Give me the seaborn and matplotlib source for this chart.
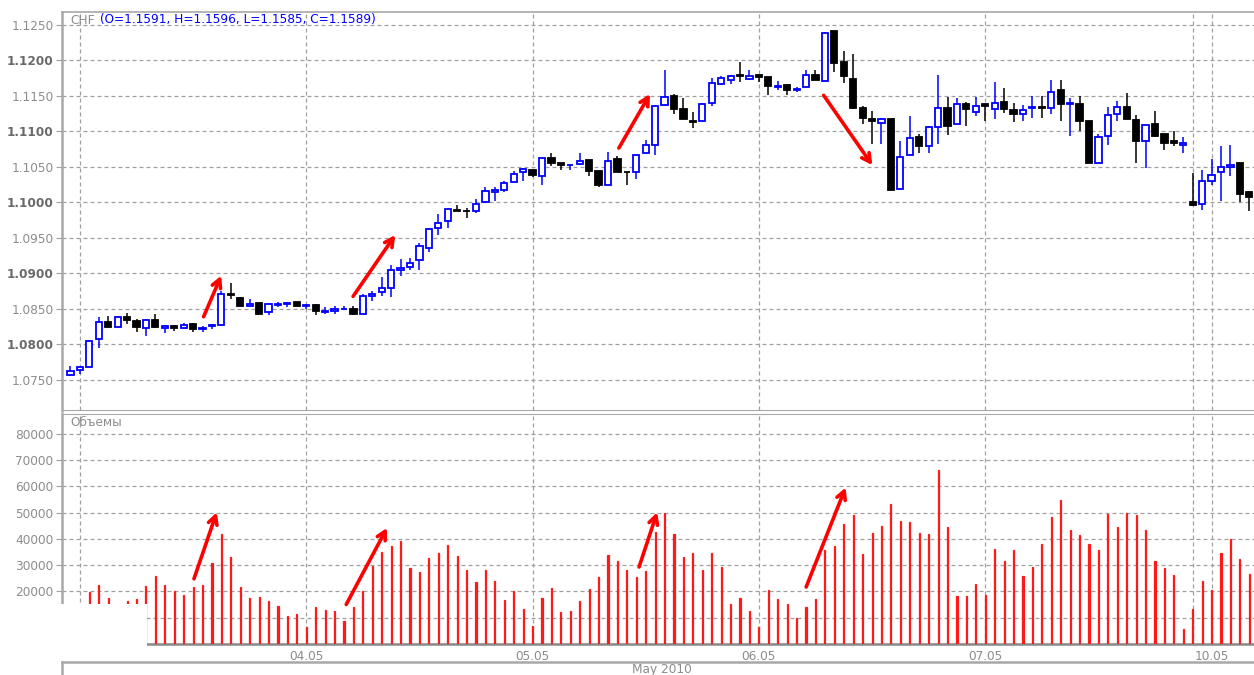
import numpy as np
import pandas as pd
import matplotlib
matplotlib.use("Agg")
import matplotlib.pyplot as plt
import seaborn as sns
from matplotlib.patches import Rectangle

# hourly CHF bars, 02.05 23:00 .. 07.05 21:00 and 09.05 22:00 .. 10.05 04:00
opens = [1.0757, 1.0763, 1.0768, 1.0807, 1.0831, 1.0824, 1.0838, 1.0832, 1.0822, 1.0834,
         1.0823, 1.0826, 1.0822, 1.0828, 1.0821, 1.0826, 1.0827, 1.0871, 1.0865, 1.0853,
         1.0858, 1.0845, 1.0855, 1.0857, 1.0859, 1.0853, 1.0855, 1.0845, 1.0846, 1.0849,
         1.0850, 1.0842, 1.0868, 1.0873, 1.0879, 1.0905, 1.0908, 1.0918, 1.0935, 1.0964,
         1.0974, 1.0989, 1.0988, 1.0987, 1.1001, 1.1015, 1.1017, 1.1029, 1.1042, 1.1045,
         1.1037, 1.1062, 1.1055, 1.1052, 1.1054, 1.1059, 1.1044, 1.1025, 1.1061, 1.1043,
         1.1043, 1.1069, 1.1081, 1.1137, 1.1150, 1.1131, 1.1114, 1.1114, 1.1140, 1.1167,
         1.1172, 1.1180, 1.1174, 1.1179, 1.1176, 1.1162, 1.1165, 1.1158, 1.1162, 1.1180,
         1.1171, 1.1241, 1.1198, 1.1174, 1.1133, 1.1117, 1.1112, 1.1118, 1.1018, 1.1067,
         1.1092, 1.1080, 1.1106, 1.1133, 1.1110, 1.1138, 1.1127, 1.1138, 1.1132, 1.1142,
         1.1130, 1.1125, 1.1133, 1.1134, 1.1133, 1.1158, 1.1139, 1.1138, 1.1114, 1.1055,
         1.1093, 1.1124, 1.1135, 1.1116, 1.1086, 1.1111, 1.1096, 1.1086, 1.1081, 1.1000,
         1.0997, 1.1030, 1.1042, 1.1050, 1.1055, 1.1014]
highs = [1.0769, 1.0769, 1.0806, 1.0838, 1.0839, 1.0840, 1.0844, 1.0835, 1.0835, 1.0842,
         1.0827, 1.0827, 1.0829, 1.0830, 1.0826, 1.0828, 1.0875, 1.0886, 1.0866, 1.0864,
         1.0858, 1.0858, 1.0860, 1.0860, 1.0860, 1.0857, 1.0857, 1.0852, 1.0853, 1.0853,
         1.0853, 1.0871, 1.0875, 1.0894, 1.0911, 1.0920, 1.0921, 1.0942, 1.0963, 1.0984,
         1.0991, 1.0996, 1.0992, 1.1005, 1.1021, 1.1021, 1.1030, 1.1044, 1.1048, 1.1045,
         1.1063, 1.1069, 1.1055, 1.1053, 1.1070, 1.1060, 1.1044, 1.1071, 1.1065, 1.1043,
         1.1067, 1.1088, 1.1137, 1.1186, 1.1153, 1.1147, 1.1127, 1.1140, 1.1175, 1.1178,
         1.1180, 1.1198, 1.1186, 1.1179, 1.1176, 1.1171, 1.1165, 1.1163, 1.1186, 1.1187,
         1.1240, 1.1242, 1.1214, 1.1209, 1.1136, 1.1128, 1.1119, 1.1118, 1.1087, 1.1121,
         1.1096, 1.1108, 1.1179, 1.1149, 1.1147, 1.1141, 1.1148, 1.1139, 1.1170, 1.1161,
         1.1140, 1.1137, 1.1150, 1.1150, 1.1172, 1.1173, 1.1147, 1.1150, 1.1114, 1.1096,
         1.1134, 1.1143, 1.1154, 1.1123, 1.1109, 1.1128, 1.1096, 1.1101, 1.1092, 1.1041,
         1.1046, 1.1061, 1.1080, 1.1081, 1.1055, 1.1016]
lows = [1.0755, 1.0758, 1.0767, 1.0795, 1.0824, 1.0824, 1.0828, 1.0817, 1.0812, 1.0822,
        1.0815, 1.0819, 1.0821, 1.0817, 1.0817, 1.0821, 1.0825, 1.0863, 1.0854, 1.0852,
        1.0842, 1.0841, 1.0852, 1.0852, 1.0853, 1.0850, 1.0841, 1.0842, 1.0842, 1.0849,
        1.0841, 1.0842, 1.0861, 1.0868, 1.0866, 1.0896, 1.0904, 1.0905, 1.0930, 1.0954,
        1.0963, 1.0987, 1.0978, 1.0985, 1.0999, 1.1002, 1.1014, 1.1028, 1.1030, 1.1035,
        1.1025, 1.1051, 1.1046, 1.1046, 1.1053, 1.1037, 1.1021, 1.1025, 1.1042, 1.1024,
        1.1033, 1.1069, 1.1067, 1.1136, 1.1124, 1.1117, 1.1105, 1.1114, 1.1136, 1.1165,
        1.1167, 1.1170, 1.1173, 1.1170, 1.1151, 1.1158, 1.1151, 1.1156, 1.1162, 1.1172,
        1.1171, 1.1184, 1.1168, 1.1131, 1.1110, 1.1082, 1.1082, 1.1017, 1.1018, 1.1066,
        1.1069, 1.1069, 1.1082, 1.1095, 1.1110, 1.1107, 1.1122, 1.1114, 1.1117, 1.1126,
        1.1113, 1.1114, 1.1119, 1.1119, 1.1125, 1.1114, 1.1093, 1.1101, 1.1056, 1.1055,
        1.1081, 1.1115, 1.1117, 1.1056, 1.1049, 1.1092, 1.1074, 1.1079, 1.1069, 1.0995,
        1.0989, 1.1025, 1.1002, 1.1037, 1.1000, 1.0988]
closes = [1.0762, 1.0767, 1.0805, 1.0831, 1.0824, 1.0838, 1.0834, 1.0824, 1.0834, 1.0824,
          1.0826, 1.0823, 1.0827, 1.0821, 1.0823, 1.0827, 1.0870, 1.0869, 1.0854, 1.0857,
          1.0843, 1.0857, 1.0857, 1.0858, 1.0854, 1.0855, 1.0846, 1.0846, 1.0849, 1.0850,
          1.0842, 1.0868, 1.0871, 1.0879, 1.0905, 1.0907, 1.0915, 1.0938, 1.0962, 1.0971,
          1.0990, 1.0988, 1.0987, 1.0997, 1.1016, 1.1017, 1.1027, 1.1040, 1.1047, 1.1038,
          1.1062, 1.1055, 1.1053, 1.1053, 1.1058, 1.1044, 1.1025, 1.1058, 1.1042, 1.1042,
          1.1067, 1.1081, 1.1136, 1.1148, 1.1132, 1.1117, 1.1113, 1.1139, 1.1168, 1.1175,
          1.1178, 1.1178, 1.1178, 1.1177, 1.1164, 1.1164, 1.1159, 1.1160, 1.1180, 1.1173,
          1.1239, 1.1197, 1.1178, 1.1133, 1.1119, 1.1114, 1.1117, 1.1017, 1.1064, 1.1090,
          1.1080, 1.1106, 1.1133, 1.1108, 1.1138, 1.1131, 1.1136, 1.1136, 1.1140, 1.1132,
          1.1125, 1.1130, 1.1134, 1.1133, 1.1155, 1.1138, 1.1140, 1.1114, 1.1056, 1.1092,
          1.1123, 1.1134, 1.1117, 1.1086, 1.1109, 1.1094, 1.1084, 1.1084, 1.1083, 1.0996,
          1.1030, 1.1038, 1.1050, 1.1053, 1.1012, 1.1008]
volumes = [9000, 12000, 19800, 22600, 17600, 13000, 16200, 17200, 22000, 25800,
           22600, 20000, 18500, 21600, 22600, 30800, 41700, 33200, 21600, 17600,
           17900, 16200, 14400, 10700, 11600, 6300, 13900, 13100, 12500, 8800,
           13900, 20100, 29800, 35100, 37300, 39200, 28900, 27300, 32700, 34800,
           37700, 33600, 28200, 23500, 28200, 23900, 16600, 20100, 13500, 6900,
           17500, 21300, 12000, 12600, 16200, 20800, 25400, 33800, 31700, 28200,
           25400, 27700, 42700, 49900, 41700, 33200, 34800, 28200, 34800, 29400,
           15100, 17500, 12600, 6600, 20600, 17000, 15100, 10000, 13900, 17000,
           35800, 37300, 45500, 49000, 34400, 42300, 44800, 53300, 46700, 46400,
           42300, 41700, 66200, 44600, 18200, 18200, 22900, 18700, 36300, 31700,
           35800, 25800, 29400, 38200, 48200, 54600, 43200, 41300, 38200, 35800,
           49600, 44600, 49900, 49200, 43200, 31700, 28900, 26400, 5700, 13200,
           23900, 20400, 34800, 39800, 32300, 26700]

times = pd.date_range("2010-05-02 23:00", "2010-05-07 21:00", freq="h").append(
    pd.date_range("2010-05-09 22:00", "2010-05-10 04:00", freq="h"))

# hand-drawn red arrows: (tail, head) in bar index / value
price_arrows = [((14.0, 1.0835), (16.1, 1.0900)), ((29.8, 1.0864), (34.6, 1.0957)),
                ((58.0, 1.1073), (61.6, 1.1156)), ((79.7, 1.1154), (85.2, 1.1049))]
volume_arrows = [((13.0, 23800), (15.6, 51100)), ((29.1, 14100), (33.7, 45100)),
                 ((60.2, 28300), (62.3, 51100)), ((77.9, 20700), (82.3, 60500))]

df = pd.DataFrame({"time": times, "open": opens, "high": highs,
                   "low": lows, "close": closes, "volume": volumes})
df["pos"] = np.arange(len(df))
up = df["close"] >= df["open"]

# day boundaries
new_day = df["time"].dt.date.ne(df["time"].dt.date.shift())
new_day.iloc[0] = False
day_pos = df.loc[new_day, "pos"].tolist()
day_lab = [t.strftime("%d.%m") for t in df.loc[new_day, "time"]]
day_lab = [lab if (i + 1 == len(day_pos) or day_pos[i + 1] - day_pos[i] > 4) else ""
           for i, lab in enumerate(day_lab)]

sns.set_style("white")
plt.rcParams["font.family"] = ["DejaVu Sans"]

BLUE = "#0000ff"
RED = "#ff1a1a"
GRAY = "#8c8c8c"
GRID = "#a0a0a0"
SPINE = "#a8a8a8"
W, H = 1254, 675

fig = plt.figure(figsize=(W / 100, H / 100), dpi=100)


def box(l, t, r, b):
    return [l / W, 1 - b / H, (r - l) / W, (b - t) / H]


ax = fig.add_axes(box(62, 12, 1254, 410.5))
axv = fig.add_axes(box(62, 413.5, 1254, 644))
axb = fig.add_axes(box(62, 662, 1254, 675))

# --- candles ---
ax.vlines(df["pos"][up], df["low"][up], df["high"][up], color=BLUE, lw=1.1, zorder=2)
ax.vlines(df["pos"][~up], df["low"][~up], df["high"][~up], color="black", lw=1.1, zorder=2)
body_lo = df[["open", "close"]].min(axis=1)
body_h = (df["close"] - df["open"]).abs().clip(lower=0.00003)
ax.bar(df["pos"][up], body_h[up], bottom=body_lo[up], width=0.66,
       facecolor="white", edgecolor=BLUE, lw=1.3, zorder=3)
ax.bar(df["pos"][~up], body_h[~up], bottom=body_lo[~up], width=0.66,
       facecolor="black", edgecolor="black", lw=1.3, zorder=3)

# --- volumes ---
sns.barplot(data=df, x="pos", y="volume", native_scale=True, width=0.12,
            color=RED, saturation=1, errorbar=None, edgecolor=RED, linewidth=0.9,
            zorder=3, ax=axv)

xlim = (-0.9, 125.5)
dash = (0, (3.2, 2.4))
for a in (ax, axv):
    a.set_xlim(*xlim)
    a.set_xlabel("")
    a.set_ylabel("")
    a.set_axisbelow(True)
    a.set_xticks(day_pos)
    a.grid(True, color=GRID, lw=0.9, ls=dash, zorder=0)
    a.tick_params(axis="y", direction="out", length=4.3, width=0.8, color=GRID,
                  labelsize=8.7, labelcolor=GRAY, pad=1.8, left=True)
    for s in a.spines.values():
        s.set_color(SPINE)
        s.set_linewidth(0.8)
    a.spines["right"].set_visible(False)
    a.spines["left"].set_linewidth(1.8)

ax.set_ylim(1.07063, 1.12683)
ticks = np.round(np.arange(1.0750, 1.12501, 0.005), 4)
ax.set_yticks(ticks)
ax.set_yticklabels([f"{t:.4f}" for t in ticks])
for t, lab in zip(ticks, ax.get_yticklabels()):
    if round(t * 10000) % 100 == 0:
        lab.set_fontweight("bold")
        lab.set_color("#6a6a6a")
ax.tick_params(axis="x", length=0, labelbottom=False)
ax.spines["top"].set_linewidth(1.2)

axv.set_ylim(0, 87700)
vt = np.arange(10000, 80001, 10000)
axv.set_yticks(vt)
axv.set_yticklabels([str(v) for v in vt])
axv.set_xticklabels(day_lab)
axv.tick_params(axis="x", length=0, labelsize=8.7, labelcolor=GRAY, pad=4)
axv.spines["bottom"].set_color("#888888")
axv.spines["bottom"].set_linewidth(1.8)

# arrows
arrow_style = dict(arrowstyle="->,head_length=0.6,head_width=0.32", color="#ff0000", lw=2.6)
for (x0, y0), (x1, y1) in price_arrows:
    ax.annotate("", xy=(x1, y1), xytext=(x0, y0), arrowprops=arrow_style, zorder=5)
for (x0, y0), (x1, y1) in volume_arrows:
    axv.annotate("", xy=(x1, y1), xytext=(x0, y0), arrowprops=arrow_style, zorder=5)

# bottom strip with month label
axb.set_xticks([])
axb.set_yticks([])
for name, s in axb.spines.items():
    s.set_visible(name in ("top", "left"))
    s.set_color(SPINE)
    s.set_linewidth(1.8)
fig.text(662 / W, 1 - 670 / H, "May 2010", ha="center", va="center",
         fontsize=8.7, color=GRAY)

# panel captions
fig.text(70 / W, 1 - 20 / H, "CHF", ha="left", va="center", fontsize=8.7, color=GRAY)
fig.text(100 / W, 1 - 20 / H, "(O=1.1591, H=1.1596, L=1.1585, C=1.1589)",
         ha="left", va="center", fontsize=8.7, color=BLUE)
fig.text(70 / W, 1 - 422 / H, "Объемы", ha="left", va="center", fontsize=8.7, color=GRAY)

# white erased patch in the lower left corner
fig.add_artist(Rectangle((0, 1 - 661 / H), 147 / W, 57 / H, transform=fig.transFigure,
                         facecolor="white", edgecolor="none", zorder=20))

fig.savefig("out.png", dpi=100, facecolor="white")
